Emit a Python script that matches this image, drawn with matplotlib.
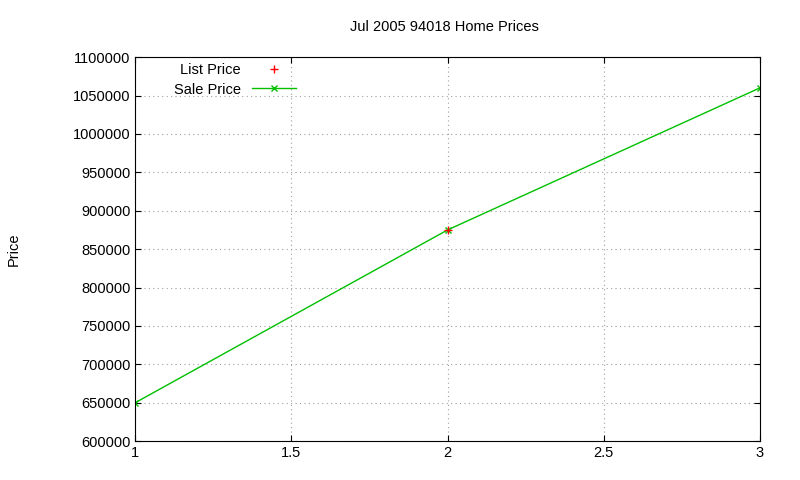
import matplotlib
matplotlib.use("Agg")
import matplotlib.pyplot as plt
from matplotlib.ticker import FuncFormatter

list_x = [2]
list_price = [875000]
sale_x = [1, 2, 3]
sale_price = [650000, 875000, 1060000]

plt.rcParams['font.family'] = ['Liberation Sans', 'DejaVu Sans']
fig = plt.figure(figsize=(8, 4.8), dpi=100)
ax = fig.add_axes([0.169, 0.081, 0.781, 0.8])

ax.plot(list_x, list_price, '+', color='#ff0000', markersize=6, label='List Price', zorder=4)
ax.plot(sale_x, sale_price, '-x', color='#00c000', linewidth=1, markersize=5, label='Sale Price')

ax.set_xlim(1, 3)
ax.set_ylim(600000, 1100000)
ax.set_xticks([1, 1.5, 2, 2.5, 3])
ax.set_xticklabels(['1', '1.5', '2', '2.5', '3'])
ax.set_yticks(range(600000, 1100001, 50000))
ax.yaxis.set_major_formatter(FuncFormatter(lambda v, p: f'{int(v)}'))
ax.grid(True, linestyle=(0, (1, 3)), color='#a0a0a0', linewidth=0.8)
ax.tick_params(direction='in', labelsize=10.5, top=True, right=True, length=4)
for s in ax.spines.values():
    s.set_linewidth(0.8)

fig.text(0.556, 0.935, 'Jul 2005 94018 Home Prices', ha='center', fontsize=10.5)
fig.text(0.008, 0.48, 'Price', rotation=90, va='center', fontsize=10.5)

leg = ax.legend(loc='upper left', bbox_to_anchor=(0.045, 1.01), frameon=False,
                markerfirst=False, fontsize=10.5, handlelength=3,
                labelspacing=0.35, borderaxespad=0.3)
for t in leg.get_texts():
    t.set_ha('right')

fig.savefig('out.png', dpi=100)
